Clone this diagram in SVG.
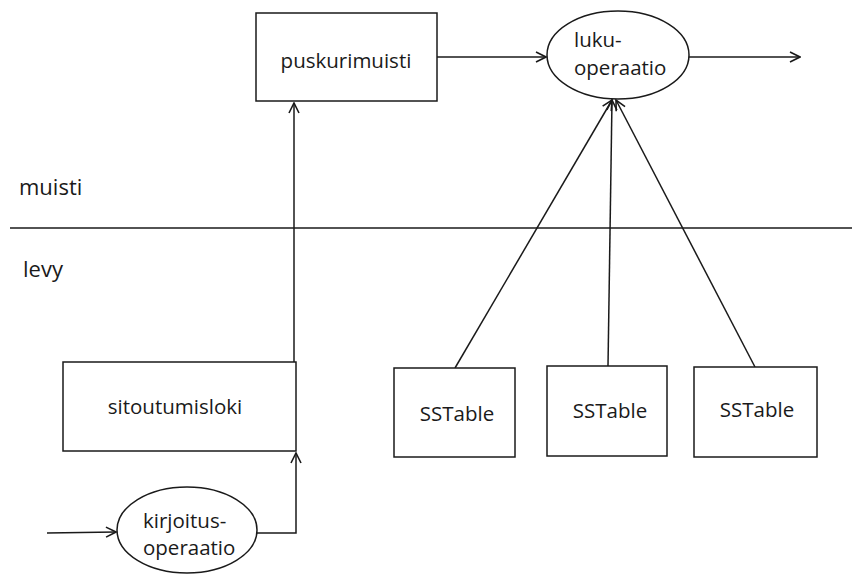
<svg xmlns="http://www.w3.org/2000/svg" width="868" height="574" viewBox="0 0 868 574">
  <style>
    .box { fill: #fff; stroke: #1a1a1a; stroke-width: 1.5; }
    .edge { fill: none; stroke: #1a1a1a; stroke-width: 1.5; }
    .lbl { font-family: "Open Sans", "Liberation Sans", sans-serif; font-size: 20.5px; fill: #1a1a1a; }
    .zone { font-size: 22px; }
    .mid { text-anchor: middle; }
  </style>
  <defs>
    <marker id="arrow" viewBox="0 0 12 12" refX="11" refY="6" markerWidth="12" markerHeight="12" markerUnits="userSpaceOnUse" orient="auto">
      <path d="M1,1 L11,6 L1,11" fill="none" stroke="#1a1a1a" stroke-width="1.6"/>
    </marker>
  </defs>
  <rect width="868" height="574" fill="#fff"/>

  <!-- memory / disk separator -->
  <line x1="10" y1="228" x2="852" y2="228" stroke="#1a1a1a" stroke-width="1.5"/>
  <text class="lbl zone" x="19" y="195">muisti</text>
  <text class="lbl zone" x="23" y="277">levy</text>

  <g id="connectors">
    <line class="edge" x1="437" y1="57" x2="546" y2="57" marker-end="url(#arrow)"/>
    <line class="edge" x1="689" y1="57" x2="800" y2="57" marker-end="url(#arrow)"/>
    <line class="edge" x1="294" y1="362" x2="294" y2="103" marker-end="url(#arrow)"/>
    <polyline class="edge" points="257,533 296,533 296,453" marker-end="url(#arrow)"/>
    <line class="edge" x1="47" y1="533" x2="116" y2="532" marker-end="url(#arrow)"/>
    <line class="edge" x1="455" y1="368" x2="612" y2="100" marker-end="url(#arrow)"/>
    <line class="edge" x1="608" y1="366" x2="612" y2="100" marker-end="url(#arrow)"/>
    <line class="edge" x1="755" y1="367" x2="616" y2="100" marker-end="url(#arrow)"/>
  </g>

  <g id="puskurimuisti">
    <rect class="box" x="256" y="13" width="181" height="88"/>
    <text class="lbl mid" x="346" y="68">puskurimuisti</text>
  </g>

  <g id="luku-operaatio">
    <ellipse class="box" cx="618" cy="55" rx="71" ry="44"/>
    <text class="lbl" x="574" y="47">luku-</text>
    <text class="lbl" x="574" y="75">operaatio</text>
  </g>

  <g id="sitoutumisloki">
    <rect class="box" x="63" y="362" width="233" height="89"/>
    <text class="lbl mid" x="175" y="414">sitoutumisloki</text>
  </g>

  <g id="kirjoitus-operaatio">
    <ellipse class="box" cx="187" cy="530" rx="70" ry="43"/>
    <text class="lbl" x="143" y="528">kirjoitus-</text>
    <text class="lbl" x="143" y="555">operaatio</text>
  </g>

  <g id="sstable-1">
    <rect class="box" x="394" y="368" width="121" height="89"/>
    <text class="lbl mid" x="457" y="421">SSTable</text>
  </g>
  <g id="sstable-2">
    <rect class="box" x="547" y="366" width="120" height="90"/>
    <text class="lbl mid" x="610" y="418">SSTable</text>
  </g>
  <g id="sstable-3">
    <rect class="box" x="694" y="367" width="123" height="90"/>
    <text class="lbl mid" x="757" y="417">SSTable</text>
  </g>
</svg>
